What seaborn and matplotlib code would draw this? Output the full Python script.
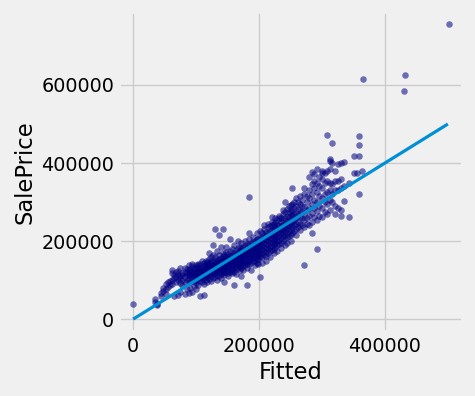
import matplotlib
matplotlib.use("Agg")
import matplotlib.pyplot as plt
import seaborn as sns
import pandas as pd

# Fitted values (thousands) per column, with observed SalePrice values (thousands)
fitted_cols = [0, 35, 38, 45, 48, 52, 55, 58, 62, 65, 68, 72, 75, 78, 82, 85, 88, 91, 94, 97,
               100, 103, 106, 109, 112, 115, 118, 121, 124, 127, 130, 133, 136, 139, 142, 145,
               148, 151, 154, 157, 160, 163, 166, 169, 172, 175, 178, 181, 184, 187, 190, 193,
               196, 199, 202, 205, 208, 211, 214, 217, 220, 223, 226, 229, 232, 235, 238, 241,
               244, 247, 250, 253, 256, 259, 262, 265, 268, 272, 276, 280, 284, 288, 292, 296,
               300, 304, 308, 312, 316, 320, 325, 330, 335, 343, 351, 355, 359, 364, 365, 430,
               432, 501]
price_cols = [
    [39], [45, 52], [40, 35], [60, 68], [80, 72], [78, 90, 65], [95, 83], [88, 98],
    [100, 118, 126, 90], [58, 105, 112], [96, 108, 120], [62, 100, 115, 124],
    [92, 105, 110, 130, 70], [118, 100, 112, 88], [65, 95, 108, 122, 132],
    [100, 112, 118, 128, 76], [68, 104, 115, 125, 138], [95, 110, 120, 128, 80],
    [105, 112, 122, 135, 140, 70], [98, 108, 118, 126, 132, 85],
    [100, 110, 115, 122, 130, 138, 92, 78], [105, 112, 120, 125, 135, 142, 88],
    [98, 108, 116, 124, 132, 140, 60], [102, 110, 118, 126, 134, 148, 95],
    [105, 112, 120, 128, 136, 145, 90, 62], [100, 110, 118, 126, 133, 140, 150],
    [108, 115, 122, 130, 138, 146, 96], [102, 112, 120, 128, 136, 144, 155, 170],
    [110, 118, 125, 132, 140, 148, 158, 98], [105, 115, 122, 130, 138, 146, 165, 190],
    [108, 118, 126, 134, 142, 150, 160, 230], [112, 120, 128, 136, 144, 152, 100, 175],
    [110, 122, 130, 138, 146, 155, 165, 215], [115, 124, 132, 140, 148, 156, 105, 185],
    [118, 126, 134, 142, 150, 160, 170, 230], [112, 122, 130, 138, 146, 155, 164, 95],
    [120, 128, 136, 144, 152, 160, 172, 185], [118, 126, 134, 142, 150, 158, 166, 110],
    [122, 130, 138, 146, 154, 162, 175, 205], [125, 133, 141, 149, 157, 165, 180, 118],
    [120, 130, 138, 146, 154, 162, 170, 190, 88], [128, 136, 144, 152, 160, 168, 178, 115],
    [130, 138, 146, 154, 162, 170, 182, 200], [125, 135, 143, 151, 159, 167, 175, 185],
    [132, 140, 148, 156, 164, 172, 180, 195, 110], [135, 143, 151, 159, 167, 175, 185, 125],
    [138, 146, 154, 162, 170, 178, 188, 200], [130, 142, 150, 158, 166, 174, 182, 192, 87],
    [140, 148, 156, 164, 172, 180, 190, 205, 313, 220], [145, 153, 161, 169, 177, 185, 195, 125],
    [148, 156, 164, 172, 180, 188, 198, 210], [150, 158, 166, 174, 182, 190, 200, 138],
    [145, 155, 165, 175, 185, 195, 205, 220], [155, 163, 171, 179, 187, 195, 205, 140],
    [158, 166, 174, 182, 190, 198, 208, 225, 108], [160, 170, 180, 190, 200, 210, 220, 145],
    [165, 175, 185, 195, 205, 215, 230, 240], [162, 172, 182, 192, 202, 212, 222, 150],
    [170, 180, 190, 200, 210, 220, 235, 245], [175, 185, 195, 205, 215, 225, 238, 160],
    [178, 188, 198, 208, 218, 228, 240, 250, 262], [180, 192, 202, 212, 222, 232, 245, 170],
    [185, 195, 205, 215, 225, 235, 248, 258], [190, 200, 210, 220, 230, 240, 255, 175],
    [192, 202, 212, 222, 232, 242, 258, 265], [195, 208, 218, 228, 238, 248, 260, 182],
    [200, 212, 222, 232, 242, 255, 270, 280], [205, 215, 225, 235, 245, 258, 275, 300, 190],
    [210, 220, 230, 240, 252, 265, 282, 195], [212, 225, 238, 250, 262, 275, 290],
    [215, 228, 240, 255, 268, 280, 292, 200], [220, 235, 250, 265, 278, 295, 335],
    [225, 240, 255, 270, 285, 300], [230, 245, 260, 272, 290, 310, 215],
    [235, 250, 268, 282, 300], [228, 245, 262, 278, 295, 315], [240, 258, 275, 290, 305],
    [235, 255, 270, 288, 320, 335, 138], [245, 260, 280, 300, 315],
    [240, 265, 285, 310, 330, 365], [250, 272, 295, 320, 345, 378, 220],
    [262, 285, 305, 335, 355, 372], [255, 278, 300, 325, 350, 385, 180],
    [265, 290, 315, 340, 365], [262, 285, 310, 335, 360, 375, 380],
    [275, 300, 320, 350, 375], [270, 295, 325, 355, 472, 380],
    [280, 305, 330, 350, 385, 405, 410], [300, 320, 345, 400, 451],
    [270, 290, 330, 355, 380], [285, 330, 355, 398], [265, 280, 335, 400, 360],
    [303, 340, 402], [262, 350], [374, 418], [374], [418, 446, 469, 320], [379],
    [615], [585], [626], [757],
]

line_x = [0, 500000]
line_y = [0, 500000]

fitted = []
sale_price = []
for fx, ys in zip(fitted_cols, price_cols):
    for yv in ys:
        fitted.append(fx * 1000)
        sale_price.append(yv * 1000)
df = pd.DataFrame({"Fitted": fitted, "SalePrice": sale_price})

plt.style.use("fivethirtyeight")
fig = plt.figure(figsize=(475 / 96, 396 / 96), dpi=96)
ax = fig.add_axes([0.2505, 0.1616, 0.7242, 0.8081])

sns.scatterplot(data=df, x="Fitted", y="SalePrice", color="navy", alpha=0.55,
                s=24, linewidth=0, ax=ax)
ax.plot(line_x, line_y, color="#008fd5", linewidth=2.4)

ax.set_xlim(-22500, 524000)
ax.set_ylim(-33000, 787000)
ax.set_xticks([0, 200000, 400000])
ax.set_yticks([0, 200000, 400000, 600000])
ax.tick_params(labelsize=14.3)
ax.set_xlabel("Fitted", fontsize=17)
ax.set_ylabel("SalePrice", fontsize=17)

fig.savefig("out.png", dpi=96, facecolor=fig.get_facecolor())
